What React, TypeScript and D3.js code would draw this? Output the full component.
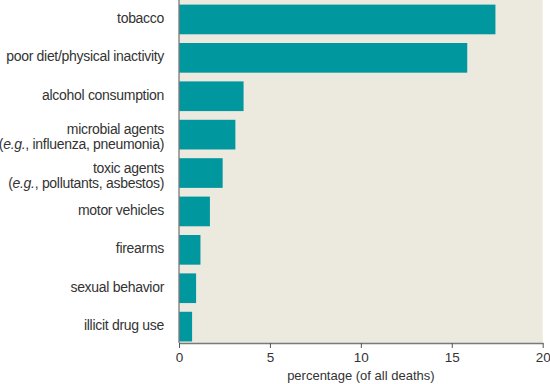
import React, { useEffect, useRef } from 'react';
import * as d3 from 'd3';

// each label is a list of lines; each line is a list of [text, italic] parts
const categories: [string, boolean][][][] = [
  [[['tobacco', false]]],
  [[['poor diet/physical inactivity', false]]],
  [[['alcohol consumption', false]]],
  [[['microbial agents', false]], [['(', false], ['e.g.', true], [', influenza, pneumonia)', false]]],
  [[['toxic agents', false]], [['(', false], ['e.g.', true], [', pollutants, asbestos)', false]]],
  [[['motor vehicles', false]]],
  [[['firearms', false]]],
  [[['sexual behavior', false]]],
  [[['illicit drug use', false]]],
];
const values = [17.4, 15.85, 3.55, 3.1, 2.4, 1.7, 1.18, 0.94, 0.72];
const xTicks = [0, 5, 10, 15, 20];
const xTitle = 'percentage (of all deaths)';

const App: React.FC = () => {
  const ref = useRef<SVGSVGElement | null>(null);

  useEffect(() => {
    if (!ref.current) return;
    const svg = d3.select(ref.current);
    svg.selectAll('*').remove();

    const margin = { top: 0, right: 8, bottom: 41, left: 179 };
    const width = 550 - margin.left - margin.right;
    const height = 384 - margin.top - margin.bottom;
    const font = '"Liberation Sans", Arial, Helvetica, sans-serif';
    const textColor = '#333';

    const g = svg.append('g').attr('transform', `translate(${margin.left},${margin.top})`);

    const x = d3.scaleLinear().domain([0, 20]).range([0, width + 0.7]);
    const y = d3
      .scaleBand<number>()
      .domain(d3.range(categories.length))
      .range([0, height])
      .paddingInner(0.227)
      .paddingOuter(0.08)
      .align(0.75);

    g.append('rect')
      .attr('x', 0)
      .attr('y', 0)
      .attr('width', x(20))
      .attr('height', height)
      .attr('fill', '#ece9df');

    g.selectAll('.bar')
      .data(values)
      .enter()
      .append('rect')
      .attr('class', 'bar')
      .attr('x', 0)
      .attr('y', (_, i) => y(i)!)
      .attr('width', d => x(d))
      .attr('height', y.bandwidth())
      .attr('fill', '#00979e');

    // left axis line (no ticks)
    g.append('line')
      .attr('x1', 0)
      .attr('x2', 0)
      .attr('y1', 0)
      .attr('y2', height)
      .attr('stroke', '#7a7a7a')
      .attr('stroke-width', 1.3);

    const xAxis = g
      .append('g')
      .attr('transform', `translate(0,${height})`)
      .call(d3.axisBottom(x).tickValues(xTicks).tickSize(5).tickPadding(4).tickSizeOuter(0));
    xAxis.select('.domain').attr('stroke', '#7a7a7a').attr('stroke-width', 1.3);
    xAxis.selectAll('.tick line').attr('stroke', '#555');
    xAxis
      .selectAll('.tick text')
      .attr('fill', textColor)
      .style('font-family', font)
      .style('font-size', '13.5px');

    g.append('text')
      .attr('x', x(10))
      .attr('y', height + 37)
      .attr('text-anchor', 'middle')
      .attr('fill', textColor)
      .style('font-family', font)
      .style('font-size', '13px')
      .text(xTitle);

    const labels = g
      .selectAll('.cat')
      .data(categories)
      .enter()
      .append('text')
      .attr('class', 'cat')
      .attr('text-anchor', 'end')
      .attr('fill', textColor)
      .style('font-family', font)
      .style('font-size', '14px')
      .style('letter-spacing', '-0.3px');

    labels.each(function (lines, i) {
      const t = d3.select(this);
      const cy = y(i)! + y.bandwidth() / 2;
      const lh = 15;
      const y0 = lines.length > 1 ? cy - lh / 2 + 7 : cy + 3.5;
      lines.forEach((parts, li) => {
        parts.forEach(([txt, it], pi) => {
          const sp = t.append('tspan').text(txt).style('font-style', it ? 'italic' : 'normal');
          if (pi === 0) sp.attr('x', -15).attr('y', y0 + li * lh);
        });
      });
    });
  }, []);

  return (
    <div style={{ position: 'absolute', left: 0, top: 0 }}>
      <svg ref={ref} width={550} height={384} style={{ display: 'block' }} />
    </div>
  );
};

export default App;
